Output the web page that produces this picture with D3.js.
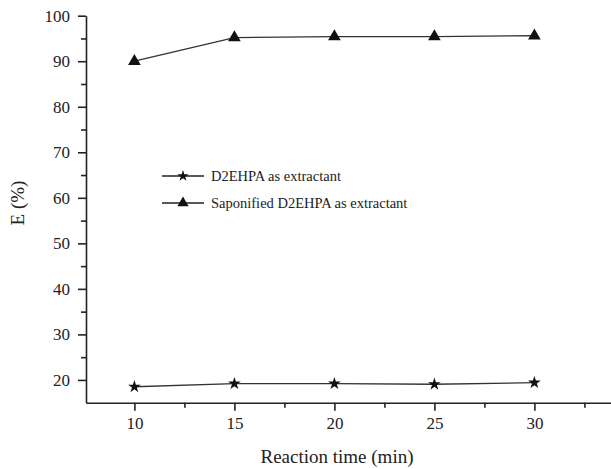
<!DOCTYPE html>
<html lang="en">
<head>
<meta charset="UTF-8">
<title>E vs reaction time</title>
<script src="https://d3js.org/d3.v7.min.js"></script>
<style>
    body { margin: 0; background: #fff; }
    .axis path, .axis line { stroke: #222; stroke-width: 1.6; }
</style>
</head>
<body>
<svg width="611" height="469"></svg>
<script>
    // Data
    const times = [10, 15, 20, 25, 30];
    const d2ehpa = [18.5, 19.2, 19.2, 19.05, 19.4];
    const saponified = [90.0, 95.2, 95.4, 95.4, 95.6];
    const yTicks = [20, 30, 40, 50, 60, 70, 80, 90, 100];
    const seriesNames = ["D2EHPA as extractant", "Saponified D2EHPA as extractant"];

    const FONT = "Liberation Serif";
    const svg = d3.select("svg").attr("font-family", FONT);
    const plotLeft = 86, plotRight = 611, plotTop = 15.7, plotBottom = 402.7;

    const x = d3.scaleLinear().domain([7.58, 33.83]).range([plotLeft, plotRight]);
    const y = d3.scaleLinear().domain([15, 100]).range([plotBottom, plotTop]);

    // minor ticks
    svg.append("g")
        .attr("class", "axis")
        .attr("transform", `translate(0,${plotBottom})`)
        .call(d3.axisBottom(x).tickValues([12.5, 17.5, 22.5, 27.5, 32.5]).tickSize(5).tickFormat(""))
        .select(".domain").remove();
    svg.append("g")
        .attr("class", "axis")
        .attr("transform", `translate(${plotLeft},0)`)
        .call(d3.axisLeft(y).tickValues([25, 35, 45, 55, 65, 75, 85, 95]).tickSize(5).tickFormat(""))
        .select(".domain").remove();

    // major axes
    const xAxis = svg.append("g")
        .attr("class", "axis")
        .attr("transform", `translate(0,${plotBottom})`)
        .call(d3.axisBottom(x).tickValues(times).tickSize(8).tickSizeOuter(0).tickPadding(6));
    const yAxis = svg.append("g")
        .attr("class", "axis")
        .attr("transform", `translate(${plotLeft},0)`)
        .call(d3.axisLeft(y).tickValues(yTicks).tickSize(8).tickSizeOuter(0).tickPadding(8));
    [xAxis, yAxis].forEach(a => a
        .attr("font-family", FONT)
        .attr("font-size", 17)
        .selectAll("text").attr("fill", "#222"));

    // axis titles
    svg.append("text")
        .attr("x", 337).attr("y", 463)
        .attr("text-anchor", "middle")
        .attr("font-size", 19).attr("fill", "#222")
        .text("Reaction time (min)");
    svg.append("text")
        .attr("transform", "translate(24,203) rotate(-90)")
        .attr("text-anchor", "middle")
        .attr("font-size", 19).attr("fill", "#222")
        .text("E (%)");

    const line = d3.line().x((d, i) => x(times[i])).y(d => y(d));
    const star = d3.symbol().type(d3.symbolStar).size(50);
    const tri = d3.symbol().type(d3.symbolTriangle).size(70);

    [[d2ehpa, star], [saponified, tri]].forEach(([vals, sym]) => {
        svg.append("path")
            .attr("d", line(vals))
            .attr("fill", "none")
            .attr("stroke", "#333")
            .attr("stroke-width", 1.3);
        svg.selectAll(null)
            .data(vals)
            .join("path")
            .attr("transform", (d, i) => `translate(${x(times[i])},${y(d)})`)
            .attr("d", sym)
            .attr("fill", "#111");
    });

    // legend
    const legend = svg.append("g");
    const legendSyms = [
        d3.symbol().type(d3.symbolStar).size(40),
        d3.symbol().type(d3.symbolTriangle).size(55)
    ];
    seriesNames.forEach((name, i) => {
        const ly = 176 + i * 27;
        legend.append("line")
            .attr("x1", 162).attr("x2", 204)
            .attr("y1", ly).attr("y2", ly)
            .attr("stroke", "#222").attr("stroke-width", 1.3);
        legend.append("path")
            .attr("transform", `translate(183,${ly})`)
            .attr("d", legendSyms[i])
            .attr("fill", "#111");
        legend.append("text")
            .attr("x", 211).attr("y", ly + 5)
            .attr("font-size", 14.5).attr("fill", "#222")
            .text(name);
    });
</script>
</body>
</html>
